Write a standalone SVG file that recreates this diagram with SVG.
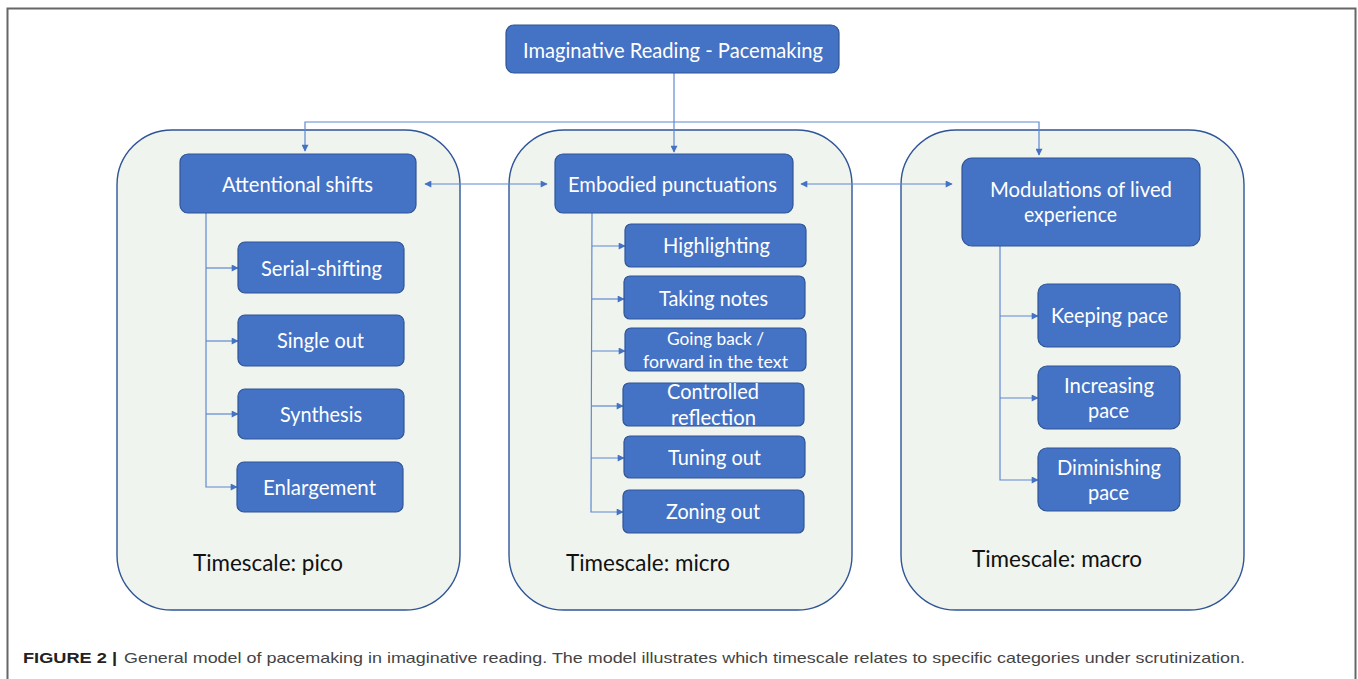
<svg xmlns="http://www.w3.org/2000/svg" width="1358" height="679" viewBox="0 0 1358 679">
<defs>
<style>
.frame{fill:#fff;stroke:#666;stroke-width:2}
.panel{fill:#f0f4ee;stroke:#2f5597;stroke-width:1.4}
.node rect{fill:#4472c4;stroke:#2f5597;stroke-width:1.2}
.node text{fill:#fff;font-family:Lato,"Open Sans",sans-serif;font-size:21px}
.node text.sm{font-size:17.5px}
.ts{fill:#111;font-family:Lato,"Open Sans",sans-serif;font-size:23px}
.conn path{fill:none;stroke:#5f88d2;stroke-width:1.2}
.cap{font-family:"Liberation Sans",Arial,sans-serif;font-size:15px;fill:#444}
.capb{font-family:"Liberation Sans",Arial,sans-serif;font-size:15px;font-weight:bold;fill:#222}
</style>
<marker id="ah" viewBox="0 0 10 10" refX="9" refY="5" markerWidth="8" markerHeight="7" markerUnits="userSpaceOnUse" orient="auto-start-reverse">
<path d="M0,0 L10,5 L0,10 z" fill="#4472c4"/>
</marker>
</defs>
<rect class="frame" x="7.5" y="8.5" width="1348" height="690"/>
<g id="panels">
<rect id="panel-pico" class="panel" x="117" y="130" width="343" height="480" rx="55" ry="55"/>
<rect id="panel-micro" class="panel" x="509" y="130" width="343" height="480" rx="55" ry="55"/>
<rect id="panel-macro" class="panel" x="901" y="130" width="343" height="480" rx="55" ry="55"/>
</g>
<g class="conn" id="connectors">
<path d="M674,73 V152" marker-end="url(#ah)"/>
<path d="M305,151 V122 H1039 V155" marker-start="url(#ah)" marker-end="url(#ah)"/>
<path d="M425,184 H547" marker-start="url(#ah)" marker-end="url(#ah)"/>
<path d="M801,184 H952" marker-start="url(#ah)" marker-end="url(#ah)"/>
<path d="M206,213 V487 H237" marker-end="url(#ah)"/>
<path d="M206,268 H238" marker-end="url(#ah)"/>
<path d="M206,341 H238" marker-end="url(#ah)"/>
<path d="M206,414 H238" marker-end="url(#ah)"/>
<path d="M592,213 L591,512 H623" marker-end="url(#ah)"/>
<path d="M592,246 H625" marker-end="url(#ah)"/>
<path d="M592,299 H624" marker-end="url(#ah)"/>
<path d="M592,351 H625" marker-end="url(#ah)"/>
<path d="M591,406 H623" marker-end="url(#ah)"/>
<path d="M591,458 H624" marker-end="url(#ah)"/>
<path d="M1000,246 V480 H1038" marker-end="url(#ah)"/>
<path d="M1000,316 H1038" marker-end="url(#ah)"/>
<path d="M1000,398 H1038" marker-end="url(#ah)"/>
</g>
<g id="n-top" class="node"><rect x="506" y="25" width="333" height="48" rx="8"/><text x="523" y="58" textLength="300" lengthAdjust="spacingAndGlyphs">Imaginative Reading - Pacemaking</text></g>
<g id="n-attn" class="node"><rect x="180" y="154" width="236" height="59" rx="8"/><text x="222" y="192" textLength="151" lengthAdjust="spacingAndGlyphs">Attentional shifts</text></g>
<g id="n-emb" class="node"><rect x="555" y="154" width="238" height="59" rx="8"/><text x="568" y="192" textLength="209" lengthAdjust="spacingAndGlyphs">Embodied punctuations</text></g>
<g id="n-mod" class="node"><rect x="962" y="158" width="238" height="88" rx="10"/><text x="990" y="197" textLength="182" lengthAdjust="spacingAndGlyphs">Modulations of lived</text><text x="1024" y="222" textLength="93" lengthAdjust="spacingAndGlyphs">experience</text></g>
<g id="n-serial" class="node"><rect x="238" y="242" width="166" height="51" rx="7"/><text x="261" y="276" textLength="121" lengthAdjust="spacingAndGlyphs">Serial-shifting</text></g>
<g id="n-single" class="node"><rect x="238" y="315" width="166" height="51" rx="7"/><text x="277" y="348" textLength="87" lengthAdjust="spacingAndGlyphs">Single out</text></g>
<g id="n-synth" class="node"><rect x="238" y="389" width="166" height="50" rx="7"/><text x="280" y="422" textLength="82" lengthAdjust="spacingAndGlyphs">Synthesis</text></g>
<g id="n-enl" class="node"><rect x="237" y="462" width="166" height="50" rx="7"/><text x="263" y="495" textLength="113" lengthAdjust="spacingAndGlyphs">Enlargement</text></g>
<g id="n-high" class="node"><rect x="625" y="224" width="181" height="43" rx="6"/><text x="663" y="253" textLength="107" lengthAdjust="spacingAndGlyphs">Highlighting</text></g>
<g id="n-notes" class="node"><rect x="624" y="276" width="181" height="43" rx="6"/><text x="659" y="306" textLength="109" lengthAdjust="spacingAndGlyphs">Taking notes</text></g>
<g id="n-going" class="node"><rect x="625" y="328" width="181" height="43" rx="6"/><text class="sm" x="667" y="345" textLength="97" lengthAdjust="spacingAndGlyphs">Going back /</text><text class="sm" x="643" y="368" textLength="145" lengthAdjust="spacingAndGlyphs">forward in the text</text></g>
<g id="n-ctrl" class="node"><rect x="623" y="383" width="181" height="43" rx="6"/><text x="667" y="399" textLength="92" lengthAdjust="spacingAndGlyphs">Controlled</text><text x="671" y="425" textLength="85" lengthAdjust="spacingAndGlyphs">reflection</text></g>
<g id="n-tuning" class="node"><rect x="624" y="436" width="181" height="42" rx="6"/><text x="668" y="465" textLength="93" lengthAdjust="spacingAndGlyphs">Tuning out</text></g>
<g id="n-zoning" class="node"><rect x="623" y="490" width="181" height="43" rx="6"/><text x="666" y="519" textLength="94" lengthAdjust="spacingAndGlyphs">Zoning out</text></g>
<g id="n-keep" class="node"><rect x="1038" y="284" width="142" height="63" rx="9"/><text x="1051" y="323" textLength="117" lengthAdjust="spacingAndGlyphs">Keeping pace</text></g>
<g id="n-inc" class="node"><rect x="1038" y="366" width="142" height="63" rx="9"/><text x="1064" y="393" textLength="90" lengthAdjust="spacingAndGlyphs">Increasing</text><text x="1088" y="418" textLength="41" lengthAdjust="spacingAndGlyphs">pace</text></g>
<g id="n-dim" class="node"><rect x="1038" y="448" width="142" height="63" rx="9"/><text x="1057" y="475" textLength="104" lengthAdjust="spacingAndGlyphs">Diminishing</text><text x="1088" y="500" textLength="41" lengthAdjust="spacingAndGlyphs">pace</text></g>
<g id="labels">
<text class="ts" x="193" y="571" textLength="150" lengthAdjust="spacingAndGlyphs">Timescale: pico</text>
<text class="ts" x="566" y="571" textLength="164" lengthAdjust="spacingAndGlyphs">Timescale: micro</text>
<text class="ts" x="972" y="567" textLength="170" lengthAdjust="spacingAndGlyphs">Timescale: macro</text>
</g>
<g id="caption">
<text class="capb" x="23" y="663" textLength="94" lengthAdjust="spacingAndGlyphs">FIGURE 2 |</text>
<text class="cap" x="124" y="663" textLength="1121" lengthAdjust="spacingAndGlyphs">General model of pacemaking in imaginative reading. The model illustrates which timescale relates to specific categories under scrutinization.</text>
</g>
</svg>
